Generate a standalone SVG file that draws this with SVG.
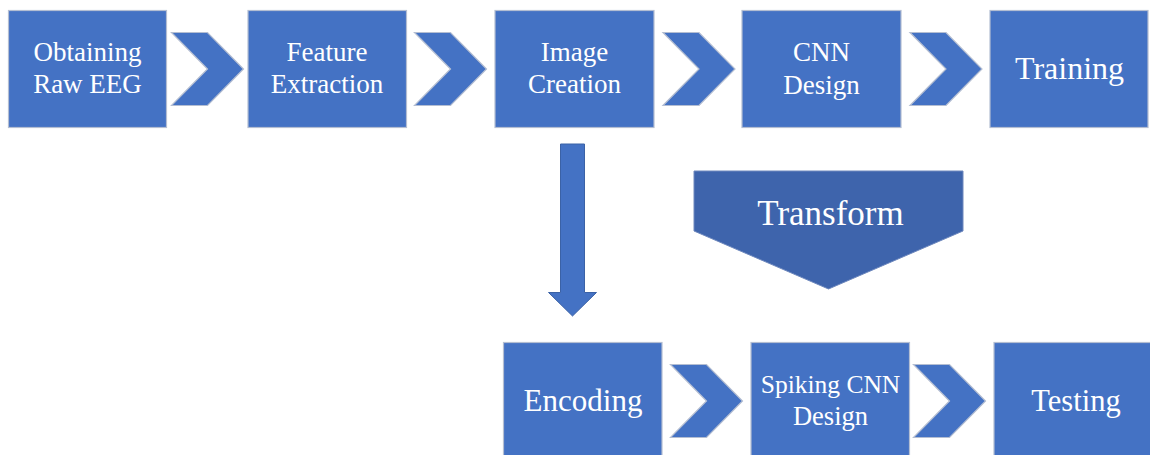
<svg xmlns="http://www.w3.org/2000/svg" width="1150" height="455" viewBox="0 0 1150 455">
  <style>
    .box { fill: #4472C4; stroke: #B4BED2; stroke-width: 1.2; }
    .chev { fill: #4472C4; stroke: #B4BED2; stroke-width: 1.2; }
    .down { fill: #4472C4; stroke: #3B62A6; stroke-width: 1; }
    .xform { fill: #3E64AC; stroke: #6E88BD; stroke-width: 1; }
    .lbl { fill: #FFFFFF; font-family: "Liberation Serif", "Times New Roman", serif; text-anchor: middle; }
  </style>
  <defs>
    <!-- chevron connector, 72 wide x 73 tall, origin at top-left -->
    <path id="chevron" d="M0,0 H36 L72,36.5 L36,73 H0 L36,36.5 Z"/>
  </defs>

  <rect width="1150" height="455" fill="#FFFFFF"/>

  <!-- connectors -->
  <g id="connectors">
    <use href="#chevron" class="chev" x="171.5" y="32.5"/>
    <use href="#chevron" class="chev" x="414.5" y="32.5"/>
    <use href="#chevron" class="chev" x="663" y="32.5"/>
    <use href="#chevron" class="chev" x="910" y="32.5"/>
    <use href="#chevron" class="chev" x="670.5" y="364.5"/>
    <use href="#chevron" class="chev" x="913.5" y="364.5"/>
    <path id="arrow-down" class="down" d="M560.5,144 H584.5 V292.5 H596.5 L572.5,316 L548.5,292.5 H560.5 Z"/>
  </g>

  <!-- top row -->
  <g id="obtaining-raw-eeg">
    <rect class="box" x="8.5" y="10.5" width="158" height="117"/>
    <text class="lbl" x="87.5" y="61" font-size="27">Obtaining</text>
    <text class="lbl" x="87.5" y="93" font-size="27">Raw EEG</text>
  </g>
  <g id="feature-extraction">
    <rect class="box" x="248" y="10.5" width="158.5" height="117"/>
    <text class="lbl" x="327" y="61" font-size="27">Feature</text>
    <text class="lbl" x="327" y="93" font-size="27">Extraction</text>
  </g>
  <g id="image-creation">
    <rect class="box" x="495" y="10.5" width="159" height="117"/>
    <text class="lbl" x="574.5" y="61" font-size="27">Image</text>
    <text class="lbl" x="574.5" y="93" font-size="27">Creation</text>
  </g>
  <g id="cnn-design">
    <rect class="box" x="742" y="10.5" width="159" height="117"/>
    <text class="lbl" x="821.5" y="61" font-size="27">CNN</text>
    <text class="lbl" x="821.5" y="94" font-size="27">Design</text>
  </g>
  <g id="training">
    <rect class="box" x="990" y="10.5" width="158" height="117"/>
    <text class="lbl" x="1069.5" y="78.5" font-size="32">Training</text>
  </g>

  <!-- transform step -->
  <g id="transform">
    <path class="xform" d="M694,171 H963 V231 L828.5,289 L694,231 Z"/>
    <text class="lbl" x="830.5" y="225" font-size="35">Transform</text>
  </g>

  <!-- bottom row -->
  <g id="encoding">
    <rect class="box" x="503.5" y="342.5" width="158.5" height="120"/>
    <text class="lbl" x="583" y="411" font-size="31">Encoding</text>
  </g>
  <g id="spiking-cnn-design">
    <rect class="box" x="751" y="342.5" width="158.5" height="120"/>
    <text class="lbl" x="830.5" y="393" font-size="25.5">Spiking CNN</text>
    <text class="lbl" x="830.5" y="425" font-size="26.5">Design</text>
  </g>
  <g id="testing">
    <rect class="box" x="994" y="342.5" width="165" height="120"/>
    <text class="lbl" x="1076" y="411" font-size="30.5">Testing</text>
  </g>
</svg>
